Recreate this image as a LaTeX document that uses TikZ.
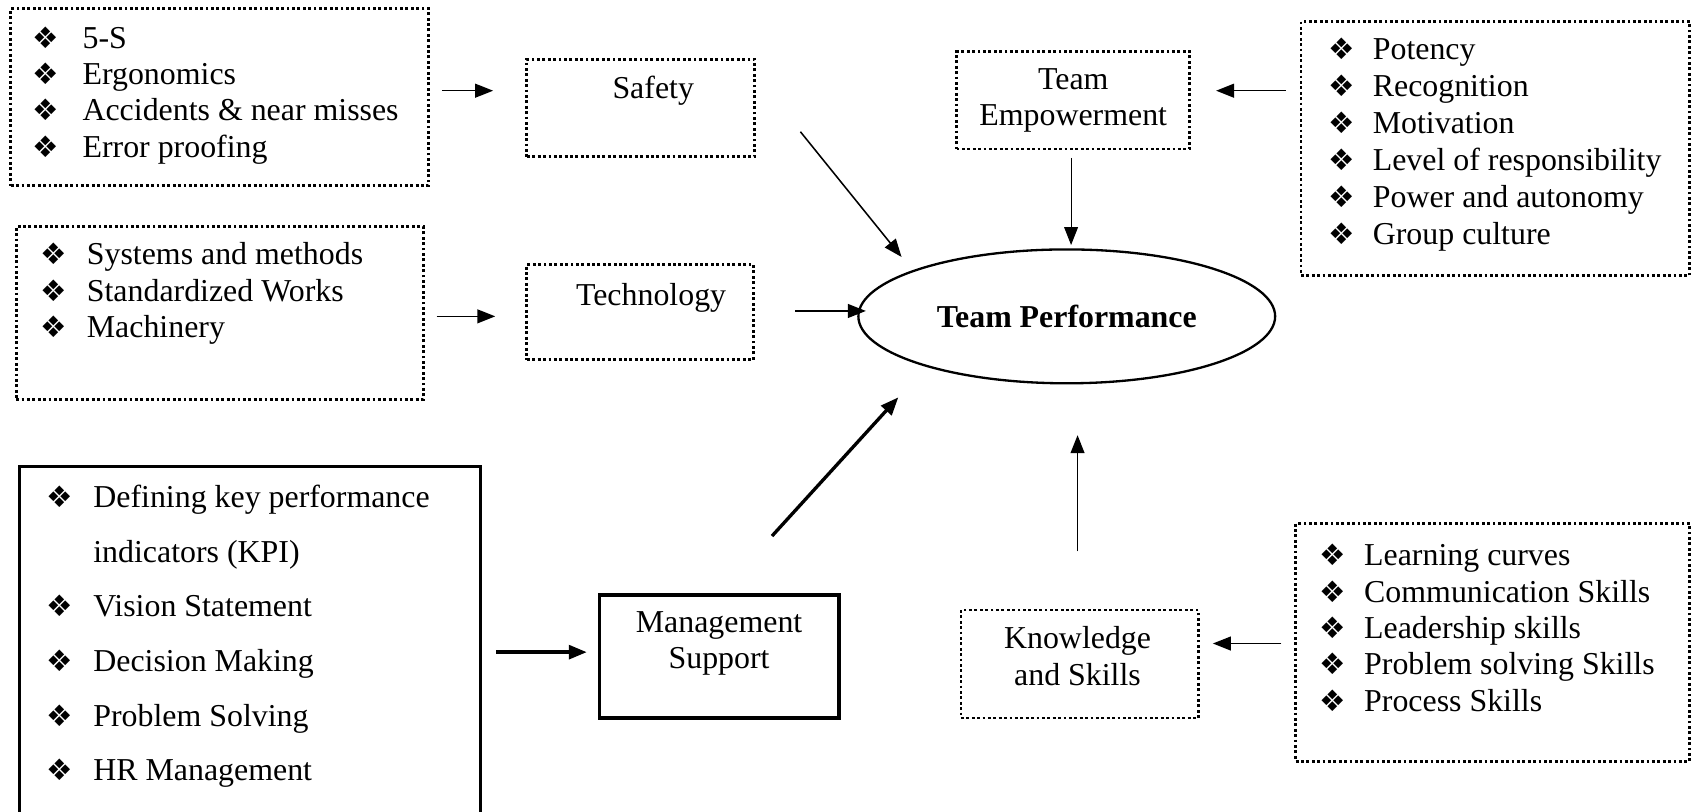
\documentclass[tikz,border=0pt]{standalone}
\usepackage{fontspec}
\setmainfont{Liberation Serif}
\newfontfamily\dingfont{DejaVu Sans}
\usetikzlibrary{shapes.geometric,arrows.meta,calc}
% diamond bullet used in all lists
\newcommand\diam{{\dingfont\fontsize{11.5}{11.5}\selectfont ❖}}
% list of bulleted lines: name, bullet x, text x, first baseline, step, items
\newcommand\itemlist[6]{%
  \foreach \t [count=\i from 0] in {#6}{%
    \node[item] (#1-b\i) at (#2,{#4+\i*#5}) {\diam};
    \node[item] (#1-t\i) at (#3,{#4+\i*#5}) {\t};
  }}
\begin{document}
\begin{tikzpicture}[x=0.42pt,y=-0.42pt,
  dotbox/.style={draw, line width=1.1pt, dash pattern=on 1.1pt off 1pt, inner sep=0pt},
  solidbox/.style={draw, line width=1.3pt, inner sep=0pt},
  txt/.style={font=\fontsize{12.4}{14.3}\selectfont, inner sep=0pt, align=center},
  item/.style={font=\fontsize{12.4}{14.3}\selectfont, inner sep=0pt, anchor=base west},
  arr/.style={-{Triangle[length=7pt,width=5.4pt]}, line width=0.6pt},
  thinarr/.style={arr, line width=0.4pt},
  boldarr/.style={arr, line width=1.3pt}]
\useasboundingbox (0,0) rectangle (1568,752);
\clip (0,0) rectangle (1568,752);

% left column: factor lists
\node[dotbox, minimum width={387*0.42pt}, minimum height={164*0.42pt}] (box1) at (203.5,90) {};
\itemlist{l1}{30}{76}{45}{33.5}{5-S, Ergonomics, Accidents \& near misses, Error proofing}

\node[dotbox, minimum width={377*0.42pt}, minimum height={160*0.42pt}] (box2) at (203.5,290) {};
\itemlist{l2}{37}{80}{245}{34}{Systems and methods, Standardized Works, Machinery}

\node[solidbox, minimum width={427*0.42pt}, minimum height={338*0.42pt}] (box3) at (231.5,601) {};
\node[item] (l3-b0) at (43,470) {\diam};
\node[item] (l3-t0) at (86,470) {Defining key performance};
\node[item] (l3-t1) at (86,520.6) {indicators (KPI)};
\itemlist{l3x}{43}{86}{571.2}{50.6}{Vision Statement, Decision Making, Problem Solving, HR Management}

% middle column: factors
\node[dotbox, minimum width={211*0.42pt}, minimum height={90*0.42pt}] (safety) at (593.5,100) {};
\node[txt] (safety-t) at (605,84) {Safety};
\node[dotbox, minimum width={210*0.42pt}, minimum height={88*0.42pt}] (tech) at (593,289) {};
\node[txt] (tech-t) at (603,276) {Technology};
\node[solidbox, minimum width={222*0.42pt}, minimum height={114*0.42pt}] (ms) at (666,608) {};
\node[txt] (ms-t) at (666,596) {Management\\Support};

% centre
\node[ellipse, draw, line width=0.9pt, minimum width={386*0.42pt}, minimum height={124*0.42pt}, inner sep=0pt,
      font=\fontsize{12.4}{14.3}\selectfont\bfseries] (perf) at (988,293) {Team Performance};
\node[dotbox, txt, minimum width={216*0.42pt}, minimum height={90*0.42pt}] (te) at (994,93) {Team\\Empowerment};
\node[dotbox, minimum width={220*0.42pt}, minimum height={100*0.42pt}] (ks) at (1000,615) {};
\node[txt] (ks-t) at (998,608) {Knowledge\\and Skills};

% right column: factor lists
\node[dotbox, minimum width={360*0.42pt}, minimum height={235*0.42pt}] (r1) at (1385,137.5) {};
\itemlist{r1}{1230}{1271}{55}{34.2}{Potency, Recognition, Motivation, Level of responsibility, Power and autonomy, Group culture}
\node[dotbox, minimum width={365*0.42pt}, minimum height={220*0.42pt}] (r2) at (1382.5,595) {};
\itemlist{r2}{1222}{1263}{524}{33.7}{Learning curves, Communication Skills, Leadership skills, Problem solving Skills, Process Skills}

% connectors
\draw[arr] ($(box1.east)+(11,-6)$) -- ($(safety.west)+(-30,-16)$);
\draw[arr] ($(box2.east)+(11,3)$) -- ($(tech.west)+(-28,4)$);
\draw[arr] ($(safety.east)+(41,22)$) -- ($(perf.center)+(-153,-55)$);
\draw[arr] ($(tech.east)+(37,-1)$) -- ($(perf.west)+(8,-5)$);
\draw[thinarr] ($(te.south)+(-2,7)$) -- ($(perf.north)+(4,-3)$);
\draw[arr] ($(r1.west)+(-13,-53.5)$) -- ($(te.east)+(23,-9)$);
\draw[boldarr] ($(box3.east)+(13,3)$) -- ($(ms.west)+(-10,-4)$);
\draw[boldarr] ($(ms.north)+(49,-53)$) -- ($(perf.center)+(-156,75)$);
\draw[arr] ($(ks.north)+(-2,-53)$) -- ($(perf.south)+(10,47)$);
\draw[arr] ($(r2.west)+(-12,1)$) -- ($(ks.east)+(12,-19)$);
\end{tikzpicture}
\end{document}
